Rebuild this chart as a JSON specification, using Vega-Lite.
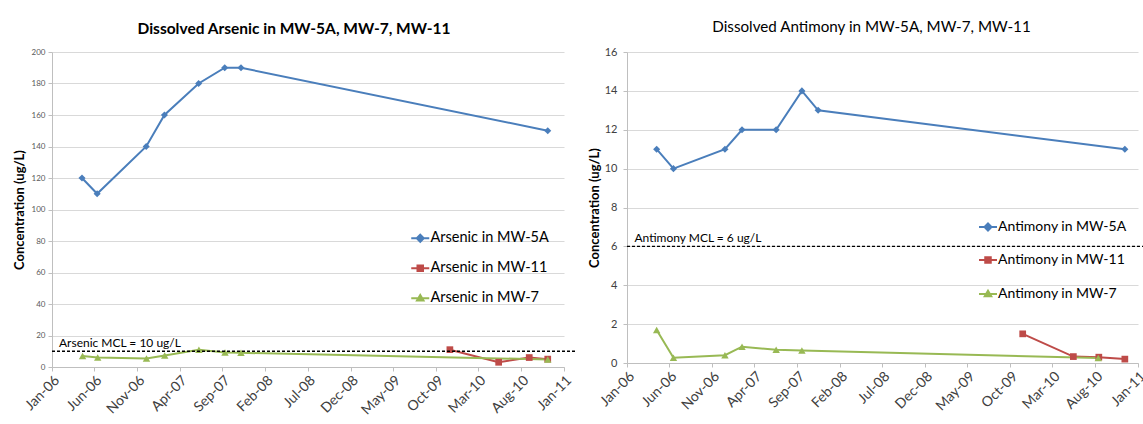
{
  "$schema": "https://vega.github.io/schema/vega-lite/v6.json",
  "background": "white",
  "padding": {"left": 13, "top": 19, "right": 0, "bottom": 0},
  "spacing": 10,
  "config": {"font": "Lato", "view": {"stroke": null}, "legend": {"padding": 0}},
  "resolve": {"scale": {"color": "independent", "shape": "independent", "x": "independent", "y": "independent"}},
  "datasets": {
    "arsenic": [
      {"date": "2006-04-18", "series": "Arsenic in MW-5A", "value": 120},
      {"date": "2006-06-11", "series": "Arsenic in MW-5A", "value": 110},
      {"date": "2006-12-03", "series": "Arsenic in MW-5A", "value": 140},
      {"date": "2007-02-06", "series": "Arsenic in MW-5A", "value": 160},
      {"date": "2007-06-08", "series": "Arsenic in MW-5A", "value": 180},
      {"date": "2007-09-09", "series": "Arsenic in MW-5A", "value": 190},
      {"date": "2007-11-06", "series": "Arsenic in MW-5A", "value": 190},
      {"date": "2010-11-04", "series": "Arsenic in MW-5A", "value": 150},
      {"date": "2009-11-20", "series": "Arsenic in MW-11", "value": 11},
      {"date": "2010-05-13", "series": "Arsenic in MW-11", "value": 3},
      {"date": "2010-08-30", "series": "Arsenic in MW-11", "value": 6},
      {"date": "2010-11-04", "series": "Arsenic in MW-11", "value": 5},
      {"date": "2006-04-20", "series": "Arsenic in MW-7", "value": 7},
      {"date": "2006-06-13", "series": "Arsenic in MW-7", "value": 6},
      {"date": "2006-12-04", "series": "Arsenic in MW-7", "value": 5.4},
      {"date": "2007-02-07", "series": "Arsenic in MW-7", "value": 7.3},
      {"date": "2007-06-09", "series": "Arsenic in MW-7", "value": 11},
      {"date": "2007-09-10", "series": "Arsenic in MW-7", "value": 9.2},
      {"date": "2007-11-06", "series": "Arsenic in MW-7", "value": 9},
      {"date": "2010-11-04", "series": "Arsenic in MW-7", "value": 4.8}
    ],
    "arsenicMCL": [
      {"date": "2006-01-01", "date2": "2011-02-15", "value": 10, "label": "Arsenic MCL = 10 ug/L"}
    ],
    "antimony": [
      {"date": "2006-04-17", "series": "Antimony in MW-5A", "value": 11},
      {"date": "2006-06-16", "series": "Antimony in MW-5A", "value": 10},
      {"date": "2006-12-17", "series": "Antimony in MW-5A", "value": 11},
      {"date": "2007-02-16", "series": "Antimony in MW-5A", "value": 12},
      {"date": "2007-06-18", "series": "Antimony in MW-5A", "value": 12},
      {"date": "2007-09-18", "series": "Antimony in MW-5A", "value": 14},
      {"date": "2007-11-15", "series": "Antimony in MW-5A", "value": 13},
      {"date": "2010-11-15", "series": "Antimony in MW-5A", "value": 11},
      {"date": "2009-11-15", "series": "Antimony in MW-11", "value": 1.5},
      {"date": "2010-05-15", "series": "Antimony in MW-11", "value": 0.33},
      {"date": "2010-08-14", "series": "Antimony in MW-11", "value": 0.3},
      {"date": "2010-11-15", "series": "Antimony in MW-11", "value": 0.2},
      {"date": "2006-04-17", "series": "Antimony in MW-7", "value": 1.7},
      {"date": "2006-06-16", "series": "Antimony in MW-7", "value": 0.27},
      {"date": "2006-12-17", "series": "Antimony in MW-7", "value": 0.4},
      {"date": "2007-02-16", "series": "Antimony in MW-7", "value": 0.84},
      {"date": "2007-06-18", "series": "Antimony in MW-7", "value": 0.68},
      {"date": "2007-09-18", "series": "Antimony in MW-7", "value": 0.64},
      {"date": "2010-08-12", "series": "Antimony in MW-7", "value": 0.26}
    ],
    "antimonyMCL": [
      {"date": "2006-01-01", "date2": "2011-03-01", "value": 6, "label": "Antimony MCL = 6 ug/L"}
    ]
  },
  "hconcat": [
    {
      "width": 512,
      "height": 315,
      "title": {"text": "Dissolved Arsenic in MW-5A, MW-7, MW-11", "fontSize": 15.5, "fontWeight": "bold", "color": "#000000", "offset": 11, "dx": -14},
      "resolve": {"scale": {"shape": "independent"}},
      "encoding": {
        "x": {
          "field": "date", "type": "temporal",
          "scale": {"type": "utc", "domain": [{"year": 2006, "month": 1, "date": 1, "utc": true}, {"year": 2011, "month": 1, "date": 1, "utc": true}]},
          "axis": {
            "title": null, "format": "%b-%y", "labelAngle": -45, "labelOverlap": false, "labelFlush": false,
            "labelFontSize": 14, "labelColor": "#404040", "labelPadding": 2, "grid": false,
            "domainColor": "#BFBFBF", "tickColor": "#BFBFBF", "tickSize": 4,
            "values": [
              {"year": 2006, "month": 1, "date": 1, "utc": true},
              {"year": 2006, "month": 6, "date": 1, "utc": true},
              {"year": 2006, "month": 11, "date": 1, "utc": true},
              {"year": 2007, "month": 4, "date": 1, "utc": true},
              {"year": 2007, "month": 9, "date": 1, "utc": true},
              {"year": 2008, "month": 2, "date": 1, "utc": true},
              {"year": 2008, "month": 7, "date": 1, "utc": true},
              {"year": 2008, "month": 12, "date": 1, "utc": true},
              {"year": 2009, "month": 5, "date": 1, "utc": true},
              {"year": 2009, "month": 10, "date": 1, "utc": true},
              {"year": 2010, "month": 3, "date": 1, "utc": true},
              {"year": 2010, "month": 8, "date": 1, "utc": true},
              {"year": 2011, "month": 1, "date": 1, "utc": true}
            ]
          }
        },
        "y": {
          "field": "value", "type": "quantitative",
          "scale": {"domain": [0, 200], "nice": false},
          "axis": {
            "title": "Concentration (ug/L)", "titleFontSize": 13, "titleFontWeight": "bold", "titleColor": "#000000", "titlePadding": 5,
            "values": [0, 20, 40, 60, 80, 100, 120, 140, 160, 180, 200],
            "labelFontSize": 8, "labelColor": "#595959", "labelPadding": 3,
            "grid": true, "gridColor": "#D9D9D9", "domainColor": "#BFBFBF", "tickColor": "#BFBFBF", "tickSize": 4
          }
        }
      },
      "layer": [
        {"data": {"name": "arsenic"}, "mark": {"type": "line", "strokeWidth": 2},
          "encoding": {"color": {"field": "series", "type": "nominal", "scale": {"domain": ["Arsenic in MW-5A", "Arsenic in MW-11", "Arsenic in MW-7"], "range": ["#4A7EBB", "#BE4B48", "#98B954"]}, "legend": null}}},
        {"data": {"name": "arsenic"}, "transform": [{"filter": {"field": "series", "equal": "Arsenic in MW-5A"}}],
          "mark": {"type": "point", "shape": "diamond", "filled": true, "opacity": 1, "size": 50, "color": "#4A7EBB"}},
        {"data": {"name": "arsenic"}, "transform": [{"filter": {"field": "series", "equal": "Arsenic in MW-11"}}],
          "mark": {"type": "point", "shape": "square", "filled": true, "opacity": 1, "size": 45, "color": "#BE4B48"}},
        {"data": {"name": "arsenic"}, "transform": [{"filter": {"field": "series", "equal": "Arsenic in MW-7"}}],
          "mark": {"type": "point", "shape": "triangle-up", "filled": true, "opacity": 1, "size": 55, "color": "#98B954"}},
        {"data": {"name": "arsenicMCL"}, "mark": {"type": "rule", "strokeDash": [3, 2], "strokeWidth": 1.3, "color": "#000000"},
          "encoding": {"x2": {"field": "date2"}}},
        {"data": {"name": "arsenicMCL"}, "mark": {"type": "text", "align": "left", "baseline": "alphabetic", "dx": 7, "dy": -4, "fontSize": 12, "color": "#000000"},
          "encoding": {"text": {"field": "label"}}},
        {"data": {"values": []}, "mark": {"type": "point", "fill": "#4A7EBB", "stroke": "#4A7EBB", "strokeWidth": 2, "opacity": 1},
          "encoding": {"shape": {"field": "series", "type": "nominal",
            "scale": {"domain": ["Arsenic in MW-5A"], "range": ["M-1.8,0H1.8M0,-0.7L0.7,0L0,0.7L-0.7,0Z"]},
            "legend": {"title": null, "orient": "none", "legendX": 361, "legendY": 179, "symbolSize": 100, "symbolStrokeWidth": 2, "labelFontSize": 14.5, "labelColor": "#000000", "labelOffset": 3}}}},
        {"data": {"values": []}, "mark": {"type": "point", "fill": "#BE4B48", "stroke": "#BE4B48", "strokeWidth": 2, "opacity": 1},
          "encoding": {"shape": {"field": "series", "type": "nominal",
            "scale": {"domain": ["Arsenic in MW-11"], "range": ["M-1.8,0H1.8M-0.55,-0.55H0.55V0.55H-0.55Z"]},
            "legend": {"title": null, "orient": "none", "legendX": 361, "legendY": 209, "symbolSize": 100, "symbolStrokeWidth": 2, "labelFontSize": 14.5, "labelColor": "#000000", "labelOffset": 3}}}},
        {"data": {"values": []}, "mark": {"type": "point", "fill": "#98B954", "stroke": "#98B954", "strokeWidth": 2, "opacity": 1},
          "encoding": {"shape": {"field": "series", "type": "nominal",
            "scale": {"domain": ["Arsenic in MW-7"], "range": ["M-1.8,0H1.8M0,-0.65L0.65,0.45H-0.65Z"]},
            "legend": {"title": null, "orient": "none", "legendX": 361, "legendY": 239, "symbolSize": 100, "symbolStrokeWidth": 2, "labelFontSize": 14.5, "labelColor": "#000000", "labelOffset": 3}}}}
      ]
    },
    {
      "width": 511,
      "height": 311,
      "title": {"text": "Dissolved Antimony in MW-5A, MW-7, MW-11", "fontSize": 15.2, "fontWeight": "normal", "color": "#000000", "offset": 11, "dx": -11},
      "resolve": {"scale": {"shape": "independent"}},
      "encoding": {
        "x": {
          "field": "date", "type": "temporal",
          "scale": {"type": "utc", "domain": [{"year": 2006, "month": 1, "date": 1, "utc": true}, {"year": 2011, "month": 1, "date": 1, "utc": true}]},
          "axis": {
            "title": null, "format": "%b-%y", "labelAngle": -45, "labelOverlap": false, "labelFlush": false,
            "labelFontSize": 14, "labelColor": "#404040", "labelPadding": 2, "grid": false,
            "domainColor": "#BFBFBF", "tickColor": "#BFBFBF", "tickSize": 4,
            "values": [
              {"year": 2006, "month": 1, "date": 1, "utc": true},
              {"year": 2006, "month": 6, "date": 1, "utc": true},
              {"year": 2006, "month": 11, "date": 1, "utc": true},
              {"year": 2007, "month": 4, "date": 1, "utc": true},
              {"year": 2007, "month": 9, "date": 1, "utc": true},
              {"year": 2008, "month": 2, "date": 1, "utc": true},
              {"year": 2008, "month": 7, "date": 1, "utc": true},
              {"year": 2008, "month": 12, "date": 1, "utc": true},
              {"year": 2009, "month": 5, "date": 1, "utc": true},
              {"year": 2009, "month": 10, "date": 1, "utc": true},
              {"year": 2010, "month": 3, "date": 1, "utc": true},
              {"year": 2010, "month": 8, "date": 1, "utc": true},
              {"year": 2011, "month": 1, "date": 1, "utc": true}
            ]
          }
        },
        "y": {
          "field": "value", "type": "quantitative",
          "scale": {"domain": [0, 16], "nice": false},
          "axis": {
            "title": "Concentration (ug/L)", "titleFontSize": 13, "titleFontWeight": "bold", "titleColor": "#000000", "titlePadding": 3,
            "values": [0, 2, 4, 6, 8, 10, 12, 14, 16],
            "labelFontSize": 11, "labelColor": "#404040", "labelPadding": 6,
            "grid": true, "gridColor": "#D9D9D9", "domainColor": "#BFBFBF", "tickColor": "#BFBFBF", "tickSize": 4
          }
        }
      },
      "layer": [
        {"data": {"name": "antimony"}, "mark": {"type": "line", "strokeWidth": 2},
          "encoding": {"color": {"field": "series", "type": "nominal", "scale": {"domain": ["Antimony in MW-5A", "Antimony in MW-11", "Antimony in MW-7"], "range": ["#4A7EBB", "#BE4B48", "#98B954"]}, "legend": null}}},
        {"data": {"name": "antimony"}, "transform": [{"filter": {"field": "series", "equal": "Antimony in MW-5A"}}],
          "mark": {"type": "point", "shape": "diamond", "filled": true, "opacity": 1, "size": 50, "color": "#4A7EBB"}},
        {"data": {"name": "antimony"}, "transform": [{"filter": {"field": "series", "equal": "Antimony in MW-11"}}],
          "mark": {"type": "point", "shape": "square", "filled": true, "opacity": 1, "size": 45, "color": "#BE4B48"}},
        {"data": {"name": "antimony"}, "transform": [{"filter": {"field": "series", "equal": "Antimony in MW-7"}}],
          "mark": {"type": "point", "shape": "triangle-up", "filled": true, "opacity": 1, "size": 55, "color": "#98B954"}},
        {"data": {"name": "antimonyMCL"}, "mark": {"type": "rule", "strokeDash": [3, 2], "strokeWidth": 1.3, "color": "#000000"},
          "encoding": {"x2": {"field": "date2"}}},
        {"data": {"name": "antimonyMCL"}, "mark": {"type": "text", "align": "left", "baseline": "alphabetic", "dx": 7.5, "dy": -4, "fontSize": 12, "color": "#000000"},
          "encoding": {"text": {"field": "label"}}},
        {"data": {"values": []}, "mark": {"type": "point", "fill": "#4A7EBB", "stroke": "#4A7EBB", "strokeWidth": 2, "opacity": 1},
          "encoding": {"shape": {"field": "series", "type": "nominal",
            "scale": {"domain": ["Antimony in MW-5A"], "range": ["M-1.8,0H1.8M0,-0.7L0.7,0L0,0.7L-0.7,0Z"]},
            "legend": {"title": null, "orient": "none", "legendX": 354, "legendY": 168, "symbolSize": 100, "symbolStrokeWidth": 2, "labelFontSize": 14, "labelColor": "#000000", "labelOffset": 3}}}},
        {"data": {"values": []}, "mark": {"type": "point", "fill": "#BE4B48", "stroke": "#BE4B48", "strokeWidth": 2, "opacity": 1},
          "encoding": {"shape": {"field": "series", "type": "nominal",
            "scale": {"domain": ["Antimony in MW-11"], "range": ["M-1.8,0H1.8M-0.55,-0.55H0.55V0.55H-0.55Z"]},
            "legend": {"title": null, "orient": "none", "legendX": 354, "legendY": 201, "symbolSize": 100, "symbolStrokeWidth": 2, "labelFontSize": 14, "labelColor": "#000000", "labelOffset": 3}}}},
        {"data": {"values": []}, "mark": {"type": "point", "fill": "#98B954", "stroke": "#98B954", "strokeWidth": 2, "opacity": 1},
          "encoding": {"shape": {"field": "series", "type": "nominal",
            "scale": {"domain": ["Antimony in MW-7"], "range": ["M-1.8,0H1.8M0,-0.65L0.65,0.45H-0.65Z"]},
            "legend": {"title": null, "orient": "none", "legendX": 354, "legendY": 235, "symbolSize": 100, "symbolStrokeWidth": 2, "labelFontSize": 14, "labelColor": "#000000", "labelOffset": 3}}}}
      ]
    }
  ]
}
